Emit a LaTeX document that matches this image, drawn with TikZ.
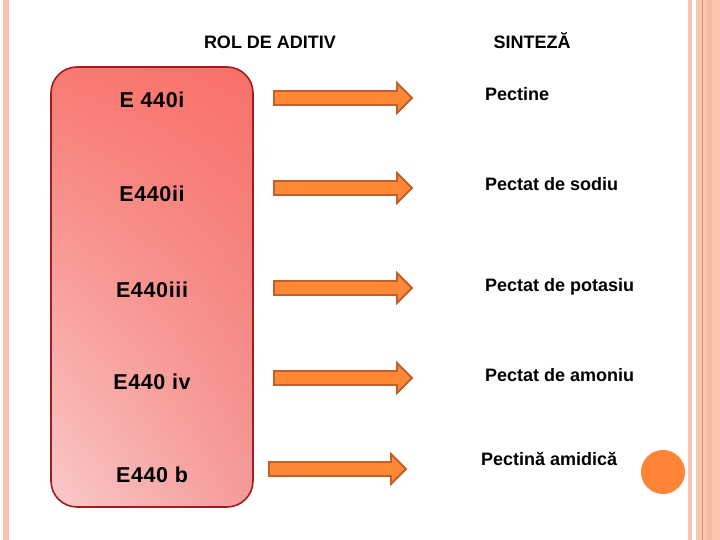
\documentclass[tikz,border=0pt]{standalone}
\usepackage{fontspec}
\usetikzlibrary{shadings}
\setmainfont{Liberation Sans}
\definecolor{stripe}{HTML}{F8C4B0}
\definecolor{stripedark}{HTML}{F2A888}
\definecolor{stripeline}{HTML}{E8906A}
\definecolor{boxborder}{HTML}{A01E1E}
\definecolor{arrfill}{HTML}{FF8836}
\definecolor{arrborder}{HTML}{C0602A}
\definecolor{dotfill}{HTML}{FD8535}
\definecolor{boxul}{HTML}{F87A72}
\definecolor{boxur}{HTML}{F87068}
\definecolor{boxll}{HTML}{F9CACA}
\definecolor{boxlr}{HTML}{F49A98}
\tikzset{
  headtxt/.style={font=\bfseries\fontsize{18}{20}\selectfont, anchor=base, inner sep=0},
  lefttxt/.style={font=\bfseries\fontsize{21.5}{24}\selectfont\addfontfeature{LetterSpace=3}, anchor=base, inner sep=0},
  righttxt/.style={font=\bfseries\fontsize{18}{20}\selectfont, anchor=base west, inner sep=0},
  arrowsty/.style={fill=arrfill, draw=arrborder, line width=1.8pt, line join=miter},
}
\newcommand\orarrow[3]{%
  \draw[arrowsty] (#1,#3-7) -- (#2-15,#3-7) -- (#2-15,#3-15) -- (#2,#3)
    -- (#2-15,#3+15) -- (#2-15,#3+7) -- (#1,#3+7) -- cycle;}
\begin{document}
\begin{tikzpicture}[x=1pt,y=-1pt]
\useasboundingbox (0,0) rectangle (720,540);
\fill[white] (0,0) rectangle (720,540);
% page decorations
\fill[stripe] (3,0) rectangle (9,540);
\fill[stripe] (688,0) rectangle (692,540);
\fill[stripe] (696,0) rectangle (720,540);
\fill[stripedark!40!stripe] (707,0) rectangle (712,540);
\fill[stripeline] (701.7,0) rectangle (702.5,540);
% headers
\node[headtxt] (h1) at (270,49) {ROL DE ADITIV};
\node[headtxt] (h2) at (532,49) {SINTEZĂ};
% gradient box
\shade[rounded corners=26pt, upper left=boxul, upper right=boxur,
  lower left=boxll, lower right=boxlr]
  (51,67) rectangle (253,507);
\draw[boxborder, line width=1.6pt, rounded corners=26pt] (51,67) rectangle (253,507);
% left labels
\node[lefttxt] (l1) at (152,108) {E 440i};
\node[lefttxt] (l2) at (152,202) {E440ii};
\node[lefttxt] (l3) at (152,297) {E440iii};
\node[lefttxt] (l4) at (152,389) {E440 iv};
\node[lefttxt] (l5) at (152,482) {E440 b};
% arrows
\orarrow{274}{412}{98}
\orarrow{274}{412}{188}
\orarrow{274}{412}{288}
\orarrow{274}{412}{378}
\orarrow{269}{406}{469}
% right labels
\node[righttxt] (r1) at (485,101) {Pectine};
\node[righttxt] (r2) at (485,191) {Pectat de sodiu};
\node[righttxt] (r3) at (485,291) {Pectat de potasiu};
\node[righttxt] (r4) at (485,381) {Pectat de amoniu};
\node[righttxt] (r5) at (481,465) {Pectină amidică};
% dot
\fill[dotfill] (663,472) circle (22);
\end{tikzpicture}
\end{document}
